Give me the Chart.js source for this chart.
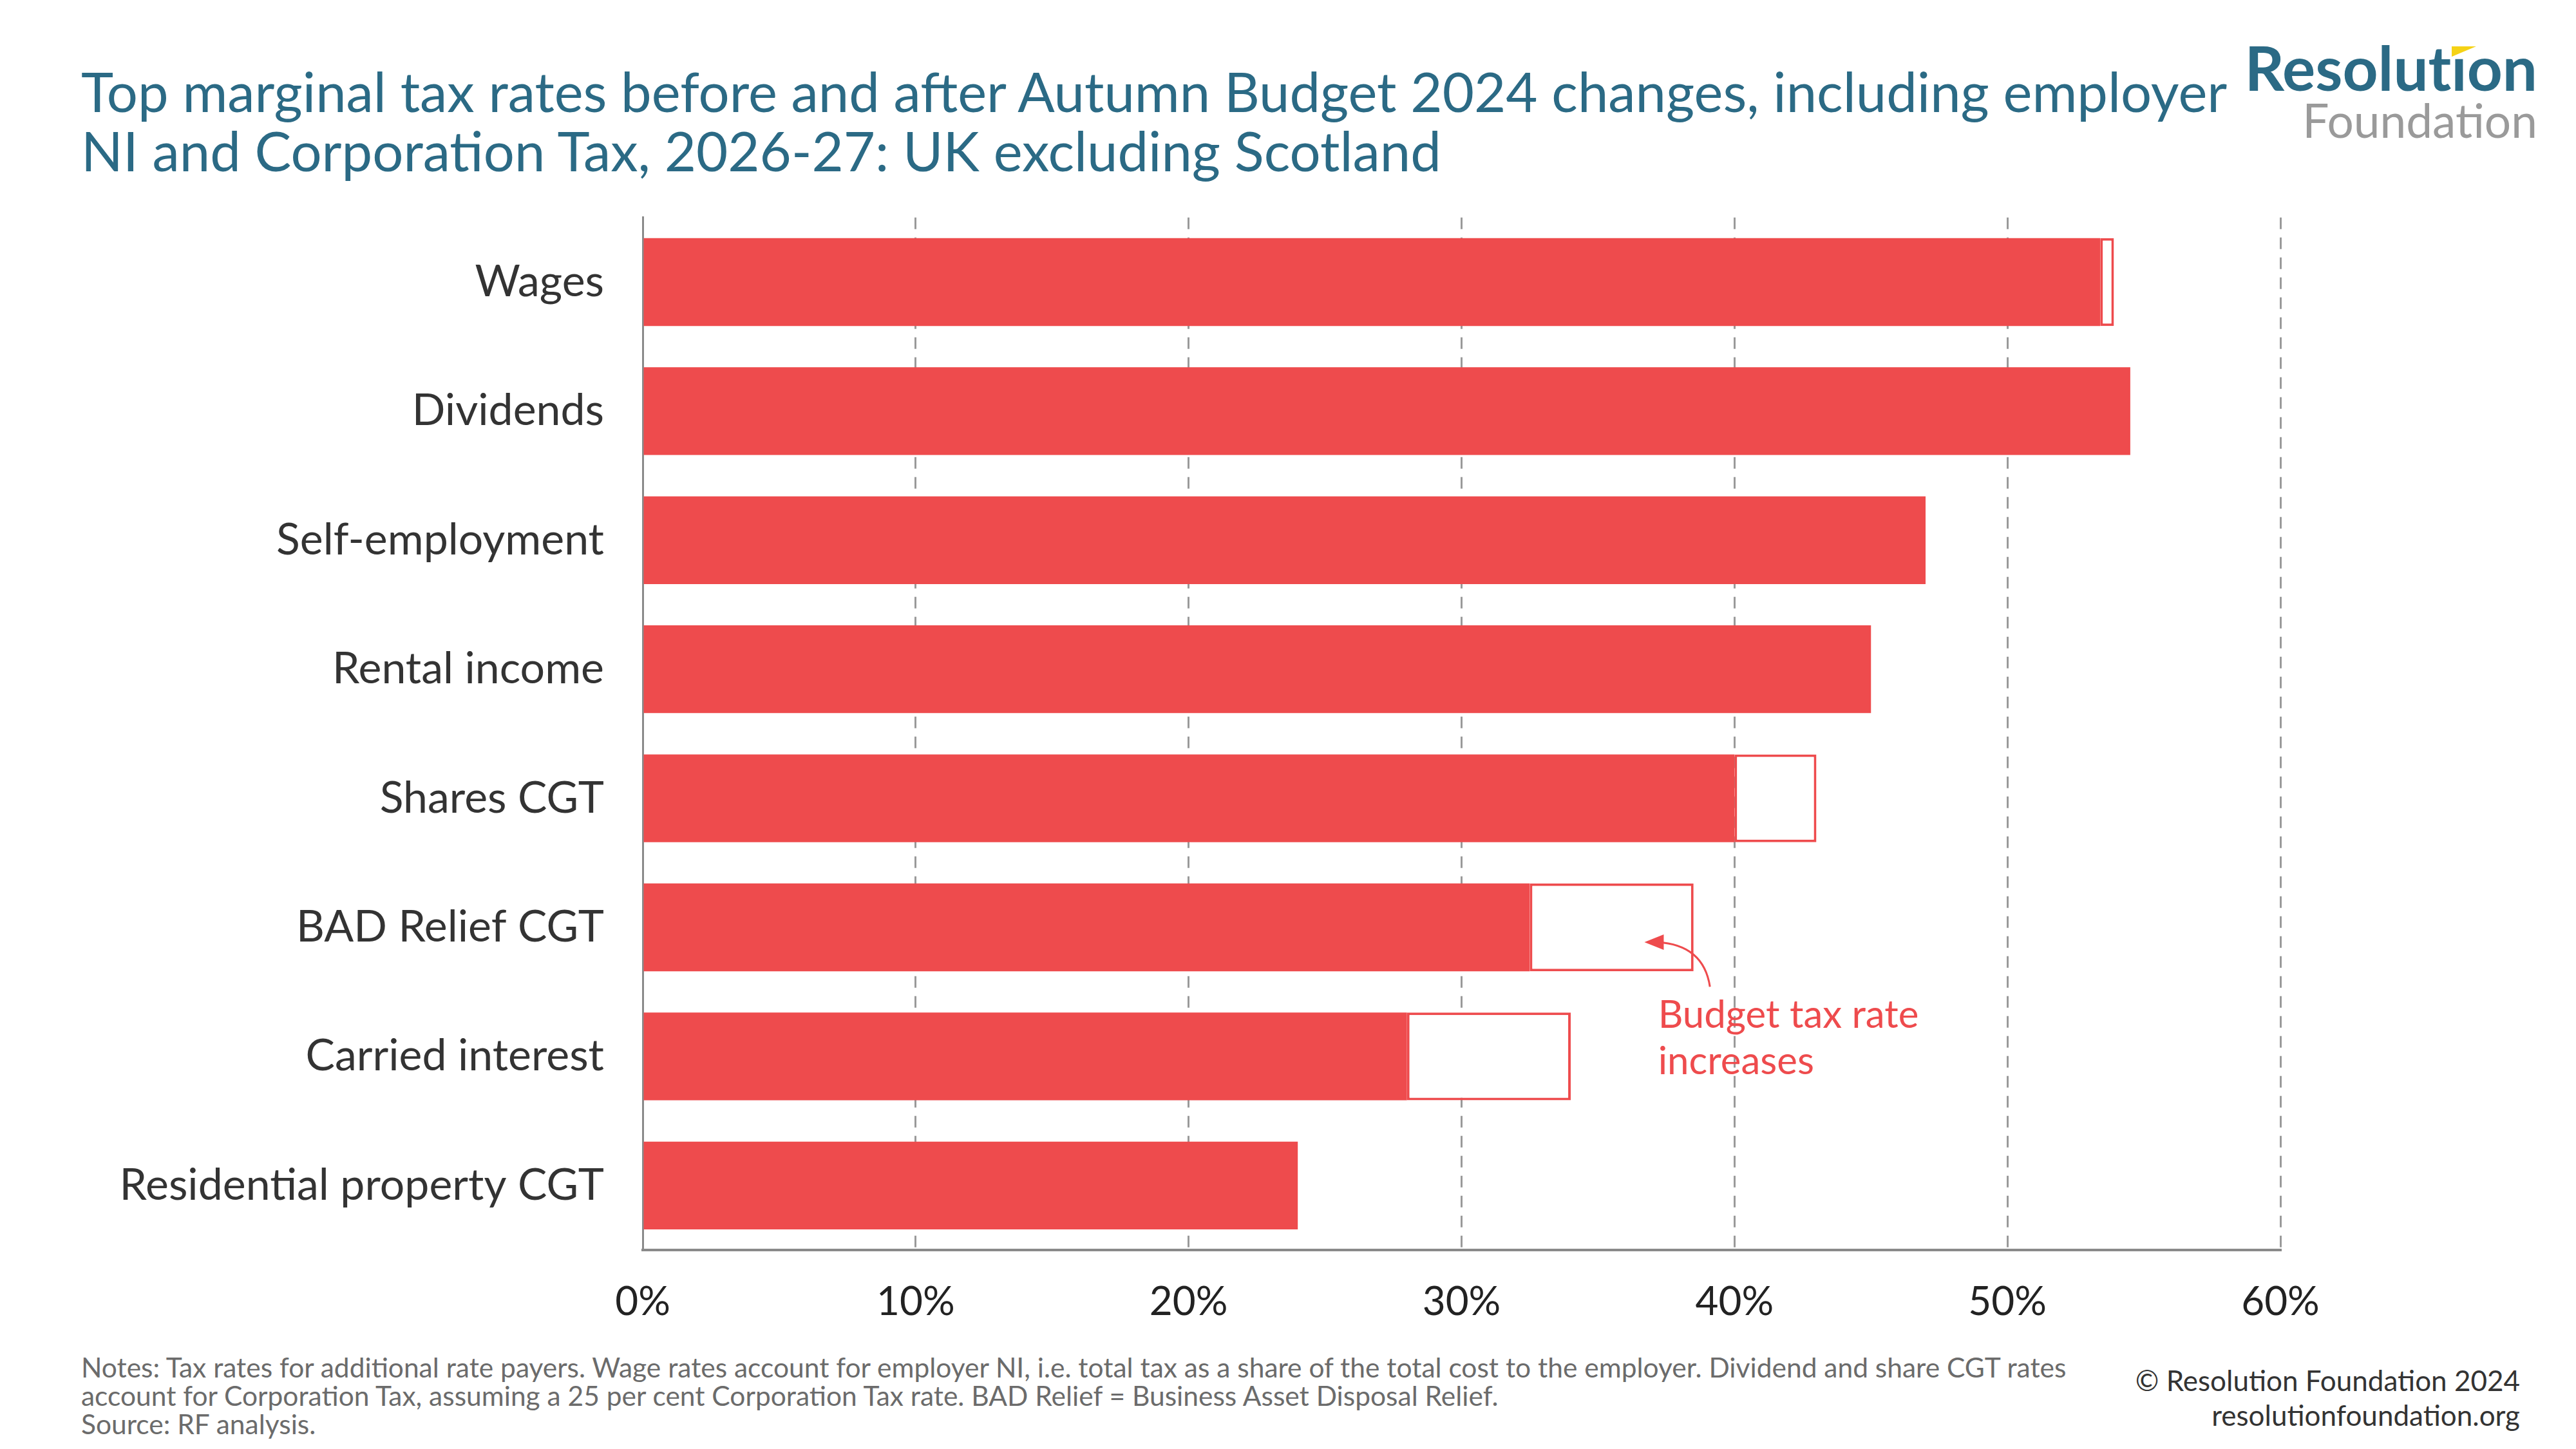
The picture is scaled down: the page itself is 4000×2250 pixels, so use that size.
<!DOCTYPE html>
<html>
<head>
<meta charset="utf-8">
<script src="https://cdn.jsdelivr.net/npm/chart.js@4"></script>
<style>
    body { margin: 0; width: 4000px; height: 2250px; background: #ffffff; position: relative; overflow: hidden; font-family: Lato, sans-serif; }
    #title { position: absolute; left: 126px; top: 95px; font-size: 85px; line-height: 92px; color: #2b6a85; }
    #logo { position: absolute; right: 60px; top: 58px; text-align: right; }
    #logo .top { font-size: 96px; line-height: 92px; font-weight: 700; color: #2b6a85; font-variant-ligatures: none; }
    #logo .bottom { font-size: 73px; line-height: 72px; color: #9a9a9a; }
    /* yellow wedge in place of the dot on the i */
    #logo .i { position: relative; }
    #logo .i::before { content: ''; position: absolute; left: -2px; top: 4px; width: 30px; height: 40px; background: #ffffff; }
    #logo .i::after { content: ''; position: absolute; left: 1px; top: 26px; width: 0; height: 0; border-top: 16px solid #f5d215; border-right: 38px solid transparent; }
    #chart-wrap { position: absolute; left: 0; top: 237px; width: 3700px; height: 1834px; }
    #notes { position: absolute; left: 126px; top: 2101px; font-size: 42.5px; line-height: 44px; color: #6b6b6b; }
    #credit { position: absolute; right: 87px; top: 2116px; font-size: 44px; line-height: 54px; color: #333333; text-align: right; }
</style>
</head>
<body>
<div id="title">Top marginal tax rates before and after Autumn Budget 2024 changes, including employer<br>NI and Corporation Tax, 2026-27: UK excluding Scotland</div>
<div id="logo"><div class="top">Resolut<span class="i">i</span>on</div><div class="bottom">Foundation</div></div>
<div id="chart-wrap"><canvas id="taxChart"></canvas></div>
<div id="notes">Notes: Tax rates for additional rate payers. Wage rates account for employer NI, i.e. total tax as a share of the total cost to the employer. Dividend and share CGT rates<br>account for Corporation Tax, assuming a 25 per cent Corporation Tax rate. BAD Relief = Business Asset Disposal Relief.<br>Source: RF analysis.</div>
<div id="credit">© Resolution Foundation 2024<br>resolutionfoundation.org</div>

<script>
// Data (per cent)
const categories = ['Wages', 'Dividends', 'Self-employment', 'Rental income', 'Shares CGT', 'BAD Relief CGT', 'Carried interest', 'Residential property CGT'];
const ratesBefore = [53.4, 54.5, 47, 45, 40, 32.5, 28, 24];
const ratesAfter = [53.9, 54.5, 47, 45, 43, 38.5, 34, 24];
const xTicks = [0, 10, 20, 30, 40, 50, 60];

const barRed = '#ee4b4d';

// Budget increase boxes: floating bars from old rate to new rate
const increaseBars = categories.map((c, i) => ratesAfter[i] > ratesBefore[i] ? [ratesBefore[i], ratesAfter[i]] : null);

// Annotation "Budget tax rate increases" with curved arrow
const budgetNote = {
    id: 'budgetNote',
    afterDatasetsDraw(chart) {
        const { ctx, scales: { x, y } } = chart;
        const band = y.getPixelForValue(1) - y.getPixelForValue(0);
        const rowBad = categories.indexOf('BAD Relief CGT');
        const rowCarried = categories.indexOf('Carried interest');

        ctx.save();
        ctx.fillStyle = barRed;
        ctx.font = '60px Lato';
        ctx.textBaseline = 'middle';
        const tx = x.getPixelForValue(37.2);
        ctx.fillText('Budget tax rate', tx, y.getPixelForValue(rowCarried) - 0.32 * band);
        ctx.fillText('increases', tx, y.getPixelForValue(rowCarried) + 0.04 * band);

        const sx = x.getPixelForValue(39.1);
        const sy = y.getPixelForValue(rowBad) + 0.46 * band;
        const ex = x.getPixelForValue(36.7);
        const ey = y.getPixelForValue(rowBad) + 0.115 * band;
        ctx.strokeStyle = barRed;
        ctx.lineWidth = 3;
        ctx.beginPath();
        ctx.moveTo(sx, sy);
        ctx.quadraticCurveTo(sx - 10, ey + 4, ex + 20, ey);
        ctx.stroke();
        // arrow head
        ctx.beginPath();
        ctx.moveTo(ex, ey);
        ctx.lineTo(ex + 30, ey - 12);
        ctx.lineTo(ex + 30, ey + 12);
        ctx.closePath();
        ctx.fill();
        ctx.restore();
    }
};

const ctx = document.getElementById('taxChart').getContext('2d');
window.taxChart = new Chart(ctx, {
    type: 'bar',
    data: {
        labels: categories,
        datasets: [
            {
                label: 'After Budget',
                data: increaseBars,
                backgroundColor: '#ffffff',
                borderColor: barRed,
                borderWidth: 4,
                borderSkipped: false,
                grouped: false,
                barPercentage: 0.68,
                categoryPercentage: 1
            },
            {
                label: 'Before Budget',
                data: ratesBefore,
                backgroundColor: barRed,
                borderWidth: 0,
                grouped: false,
                barPercentage: 0.68,
                categoryPercentage: 1
            }
        ]
    },
    options: {
        indexAxis: 'y',
        responsive: true,
        maintainAspectRatio: false,
        animation: false,
        layout: { padding: { top: 33, right: 159, left: 0, bottom: 0 } },
        plugins: {
            legend: { display: false },
            tooltip: { enabled: false }
        },
        scales: {
            x: {
                min: 0,
                max: 60,
                afterBuildTicks: (scale) => { scale.ticks = xTicks.map(v => ({ value: v })); },
                afterFit: (scale) => { scale.height = 130; },
                ticks: {
                    callback: (v) => v + '%',
                    color: '#222222',
                    padding: 44,
                    font: { family: 'Lato', size: 62 }
                },
                grid: { color: '#9a9a9a', lineWidth: 3, drawTicks: false },
                border: { display: true, color: '#8a8a8a', width: 4, dash: [18, 13] }
            },
            y: {
                afterFit: (scale) => { scale.width = 998; },
                ticks: {
                    color: '#333333',
                    padding: 60,
                    font: { family: 'Lato', size: 68 }
                },
                grid: { display: false, drawTicks: false },
                border: { display: true, color: '#8a8a8a', width: 3 }
            }
        }
    },
    plugins: [budgetNote]
});
</script>
</body>
</html>
